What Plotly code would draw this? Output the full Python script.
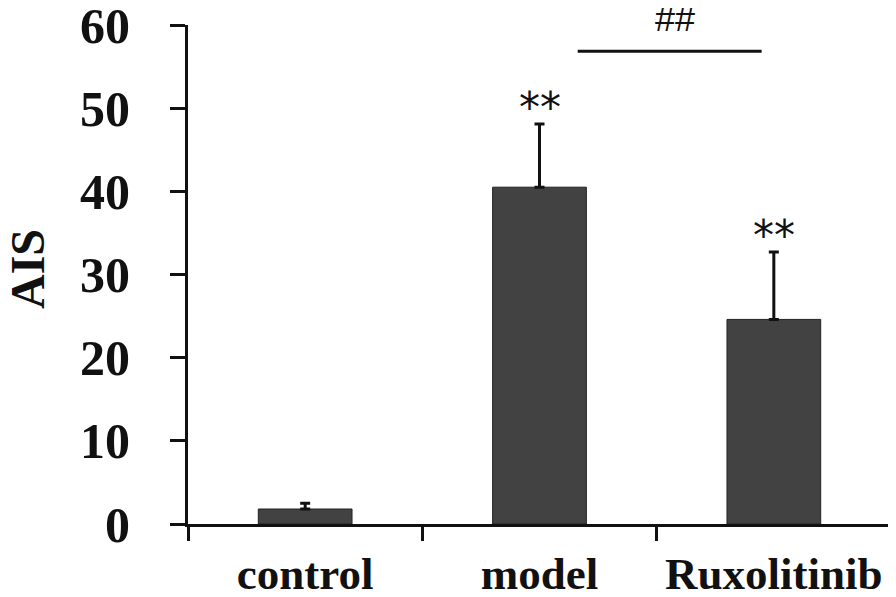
import plotly.graph_objects as go

groups = ["control", "model", "Ruxolitinib"]
ais_mean = [1.8, 40.5, 24.6]
ais_sd = [0.7, 7.6, 8.1]
y_ticks = [0, 10, 20, 30, 40, 50, 60]
stars = ["", "**", "**"]

SERIF = "Liberation Serif, Times New Roman, serif"
SANS = "Liberation Sans, Arial, sans-serif"

fig = go.Figure()
fig.add_trace(go.Bar(
    x=groups,
    y=ais_mean,
    width=0.4,
    marker=dict(color="#424242", line=dict(color="#222222", width=1)),
    error_y=dict(type="data", array=ais_sd, arrayminus=[0] * len(ais_sd),
                 symmetric=False, color="#111111", thickness=3, width=5),
    showlegend=False,
))

# significance marks above each bar
for g, m, s, txt in zip(groups, ais_mean, ais_sd, stars):
    if txt:
        fig.add_annotation(x=g, y=m + s + 2.0, text=txt, showarrow=False,
                           font=dict(family="DejaVu Sans", size=42, color="#111111"),
                           yanchor="middle")

# model vs Ruxolitinib bracket
fig.add_shape(type="line", xref="x", yref="y", x0=1.163, x1=1.948, y0=56.85, y1=56.85,
              line=dict(color="#111111", width=3))
fig.add_annotation(x=1.58, xref="x", y=1.014, yref="paper", text="##", showarrow=False,
                   yanchor="middle", font=dict(family=SANS, size=36, color="#111111"))

# y axis title, placed by hand so it sits at the left edge
fig.add_annotation(x=-0.229, xref="paper", y=0.511, yref="paper", text="AIS",
                   textangle=-90, showarrow=False, xanchor="center", yanchor="middle",
                   font=dict(family=SERIF, size=48, color="#111111", weight="bold"))

# page body has an 8px margin, so the figure is a bit smaller than the window
fig.update_layout(
    width=888, height=589,
    margin=dict(l=180, r=5, t=17, b=73),
    plot_bgcolor="white", paper_bgcolor="white",
    bargap=0.6,
)
fig.update_xaxes(
    automargin=False,
    showline=True, linecolor="#111111", linewidth=3,
    ticks="outside", tickson="boundaries", ticklen=14, tickwidth=3, tickcolor="#111111",
    tickfont=dict(family=SERIF, size=45, color="#111111", weight="bold"),
    ticklabelstandoff=8, ticklabeloverflow="allow",
    showgrid=False, zeroline=False,
)
fig.update_yaxes(
    automargin=False,
    range=[0, 60], tickvals=y_ticks,
    showline=True, linecolor="#111111", linewidth=3,
    ticks="outside", ticklen=15, tickwidth=3, tickcolor="#111111",
    tickfont=dict(family=SERIF, size=50, color="#111111", weight="bold"),
    ticklabelstandoff=30, ticklabeloverflow="allow",
    showgrid=False, zeroline=False,
)

fig.write_html("out.html")
